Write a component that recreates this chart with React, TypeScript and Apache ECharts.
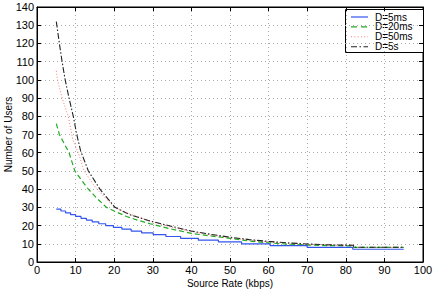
import React, { useEffect, useRef } from "react";
import * as echarts from "echarts";

const xTicks = [0, 10, 20, 30, 40, 50, 60, 70, 80, 90, 100];
const yTicks = [0, 10, 20, 30, 40, 50, 60, 70, 80, 90, 100, 110, 120, 130, 140];

const seriesNames = ["D=5ms", "D=20ms", "D=50ms", "D=5s"];

// D=5ms: staircase (value holds from x until next x)
const d5msX = [5, 6.2, 7.4, 8.7, 10, 11.4, 12.8, 14.3, 16, 17.8, 19.8, 22, 24.4, 27.1, 30.1, 33.4, 37.2, 41.8, 47, 53, 60.4, 70, 81.8, 95];
const d5msY = [29, 28, 27, 26, 25, 24, 23, 22, 21, 20, 19, 18, 17, 16, 15, 14, 13, 12, 11, 10, 9, 8, 7, 7];

const d20msX = [5, 5.8, 6.8, 8.3, 9.8, 11.5, 13.3, 15.5, 18, 20.5, 23.2, 26, 29.3, 34, 40, 45, 50, 55, 60, 65, 70, 76, 82, 82, 95];
const d20msY = [76, 70, 66, 60, 50, 45, 40, 35, 30, 27.5, 25, 23, 21, 18.5, 15.7, 14.3, 13, 11.5, 10.5, 9.8, 9.3, 9, 8.8, 8, 8];

const d50msX = [5, 5.3, 6.5, 8.1, 9.3, 10.7, 12.2, 13.8, 15.5, 17.8, 20.2, 25, 30, 35, 40, 45, 50, 55, 60, 65, 70, 76, 82, 82, 95];
const d50msY = [105, 100, 90, 80, 67, 60, 50, 45, 40, 35, 30, 25.5, 22, 19, 16.8, 14.8, 13.2, 12, 11, 10.2, 9.7, 9.3, 9, 8, 8];

const d5sX = [5, 5.8, 6.5, 7.3, 8.3, 9.4, 10.3, 11.3, 13.3, 16.3, 20.2, 24, 29.3, 35, 40, 45, 50, 55, 60, 65, 70, 76, 82, 82, 95];
const d5sY = [132, 120, 110, 100, 90, 80, 70, 61, 50, 40, 30, 26, 22.5, 19.5, 17, 15.2, 13.6, 12.3, 11.3, 10.5, 9.9, 9.4, 9.2, 8.1, 8.1];

const zip = (xs: number[], ys: number[]) => xs.map((x, i) => [x, ys[i]]);

const FONT = "Liberation Sans, Arial, Helvetica, sans-serif";

const colors = ["#3355ee", "#22aa22", "#ff7777", "#222222"];
const dashes: any[] = [null, [5, 3], [1, 2], [6, 2, 1.5, 2]];
const legendDashes: any[] = [null, [6, 4], [1, 2.3], [6, 2.5, 1.5, 2.5]];
const widths = [1.2, 1.2, 1, 1.1];

export default function App() {
  const ref = useRef<HTMLDivElement>(null);
  useEffect(() => {
    if (!ref.current) return;
    const chart = echarts.init(ref.current, undefined, { renderer: "svg" });
    const splitLine = { show: true, lineStyle: { color: "#aaa", type: [1, 3] as any, width: 1 } };
    const baseAxisLine = { show: true, onZero: false, lineStyle: { color: "#000", width: 1 } };
    const tick = { show: true, inside: true, length: 4, lineStyle: { color: "#000" } };

    const legendX = 345, legendY = 9, legendW = 78, rowH = 9.9;
    const legendChildren: any[] = [
      {
        type: "rect",
        shape: { x: legendX + 0.5, y: legendY + 0.5, width: legendW, height: 43 },
        style: { fill: "#fff", stroke: "#000", lineWidth: 1 },
      },
    ];
    seriesNames.forEach((n, i) => {
      const cy = legendY + 8 + i * rowH;
      legendChildren.push({
        type: "line",
        shape: { x1: legendX + 6, y1: cy, x2: legendX + 23, y2: cy },
        style: { stroke: colors[i], lineWidth: widths[i], lineDash: legendDashes[i] },
      });
      legendChildren.push({
        type: "text",
        x: legendX + 30,
        y: cy,
        style: { text: n, fill: "#000", font: `10px ${FONT}`, verticalAlign: "middle", align: "left" },
      });
    });

    chart.setOption({
      animation: false,
      backgroundColor: "#fff",
      textStyle: { fontFamily: FONT },
      grid: {
        left: 37, right: 13, top: 7, bottom: 27,
        containLabel: false,
        outerBoundsMode: "none",
        show: true, borderColor: "#000", borderWidth: 1, backgroundColor: "transparent",
      },
      xAxis: [
        {
          type: "value",
          min: 0,
          max: 100,
          interval: 10,
          name: "Source Rate (kbps)",
          nameLocation: "middle",
          nameGap: 16,
          nameMoveOverlap: false,
          nameTextStyle: { fontSize: 10, color: "#000", fontFamily: FONT },
          axisLine: baseAxisLine,
          axisTick: tick,
          axisLabel: { fontSize: 11, color: "#000", margin: 2, fontFamily: FONT },
          splitLine,
        },
        {
          type: "value",
          position: "top",
          min: 0,
          max: 100,
          interval: 10,
          axisLine: baseAxisLine,
          axisTick: tick,
          axisLabel: { show: false },
          splitLine: { show: false },
        },
      ],
      yAxis: [
        {
          type: "value",
          min: 0,
          max: 140,
          interval: 10,
          name: "Number of Users",
          nameLocation: "middle",
          nameGap: 24,
          nameMoveOverlap: false,
          nameTextStyle: { fontSize: 10, color: "#000", fontFamily: FONT },
          axisLine: baseAxisLine,
          axisTick: tick,
          axisLabel: { fontSize: 11, color: "#000", margin: 3, fontFamily: FONT },
          splitLine,
        },
        {
          type: "value",
          position: "right",
          min: 0,
          max: 140,
          interval: 10,
          axisLine: baseAxisLine,
          axisTick: tick,
          axisLabel: { show: false },
          splitLine: { show: false },
        },
      ],
      series: [
        {
          name: seriesNames[0],
          type: "line",
          step: "end",
          symbol: "none",
          data: zip(d5msX, d5msY),
          lineStyle: { color: colors[0], width: widths[0], type: "solid" },
          z: 5,
        },
        {
          name: seriesNames[1],
          type: "line",
          symbol: "none",
          data: zip(d20msX, d20msY),
          lineStyle: { color: colors[1], width: widths[1], type: dashes[1] },
          z: 4,
        },
        {
          name: seriesNames[2],
          type: "line",
          symbol: "none",
          data: zip(d50msX, d50msY),
          lineStyle: { color: colors[2], width: widths[2], type: dashes[2] },
          z: 3,
        },
        {
          name: seriesNames[3],
          type: "line",
          symbol: "none",
          data: zip(d5sX, d5sY),
          lineStyle: { color: colors[3], width: widths[3], type: dashes[3] },
          z: 6,
        },
      ],
      graphic: [{ type: "group", z: 100, children: legendChildren }],
    });
    return () => chart.dispose();
  }, []);
  return <div ref={ref} style={{ width: 436, height: 289, position: "absolute", left: 0, top: 0 }} />;
}
